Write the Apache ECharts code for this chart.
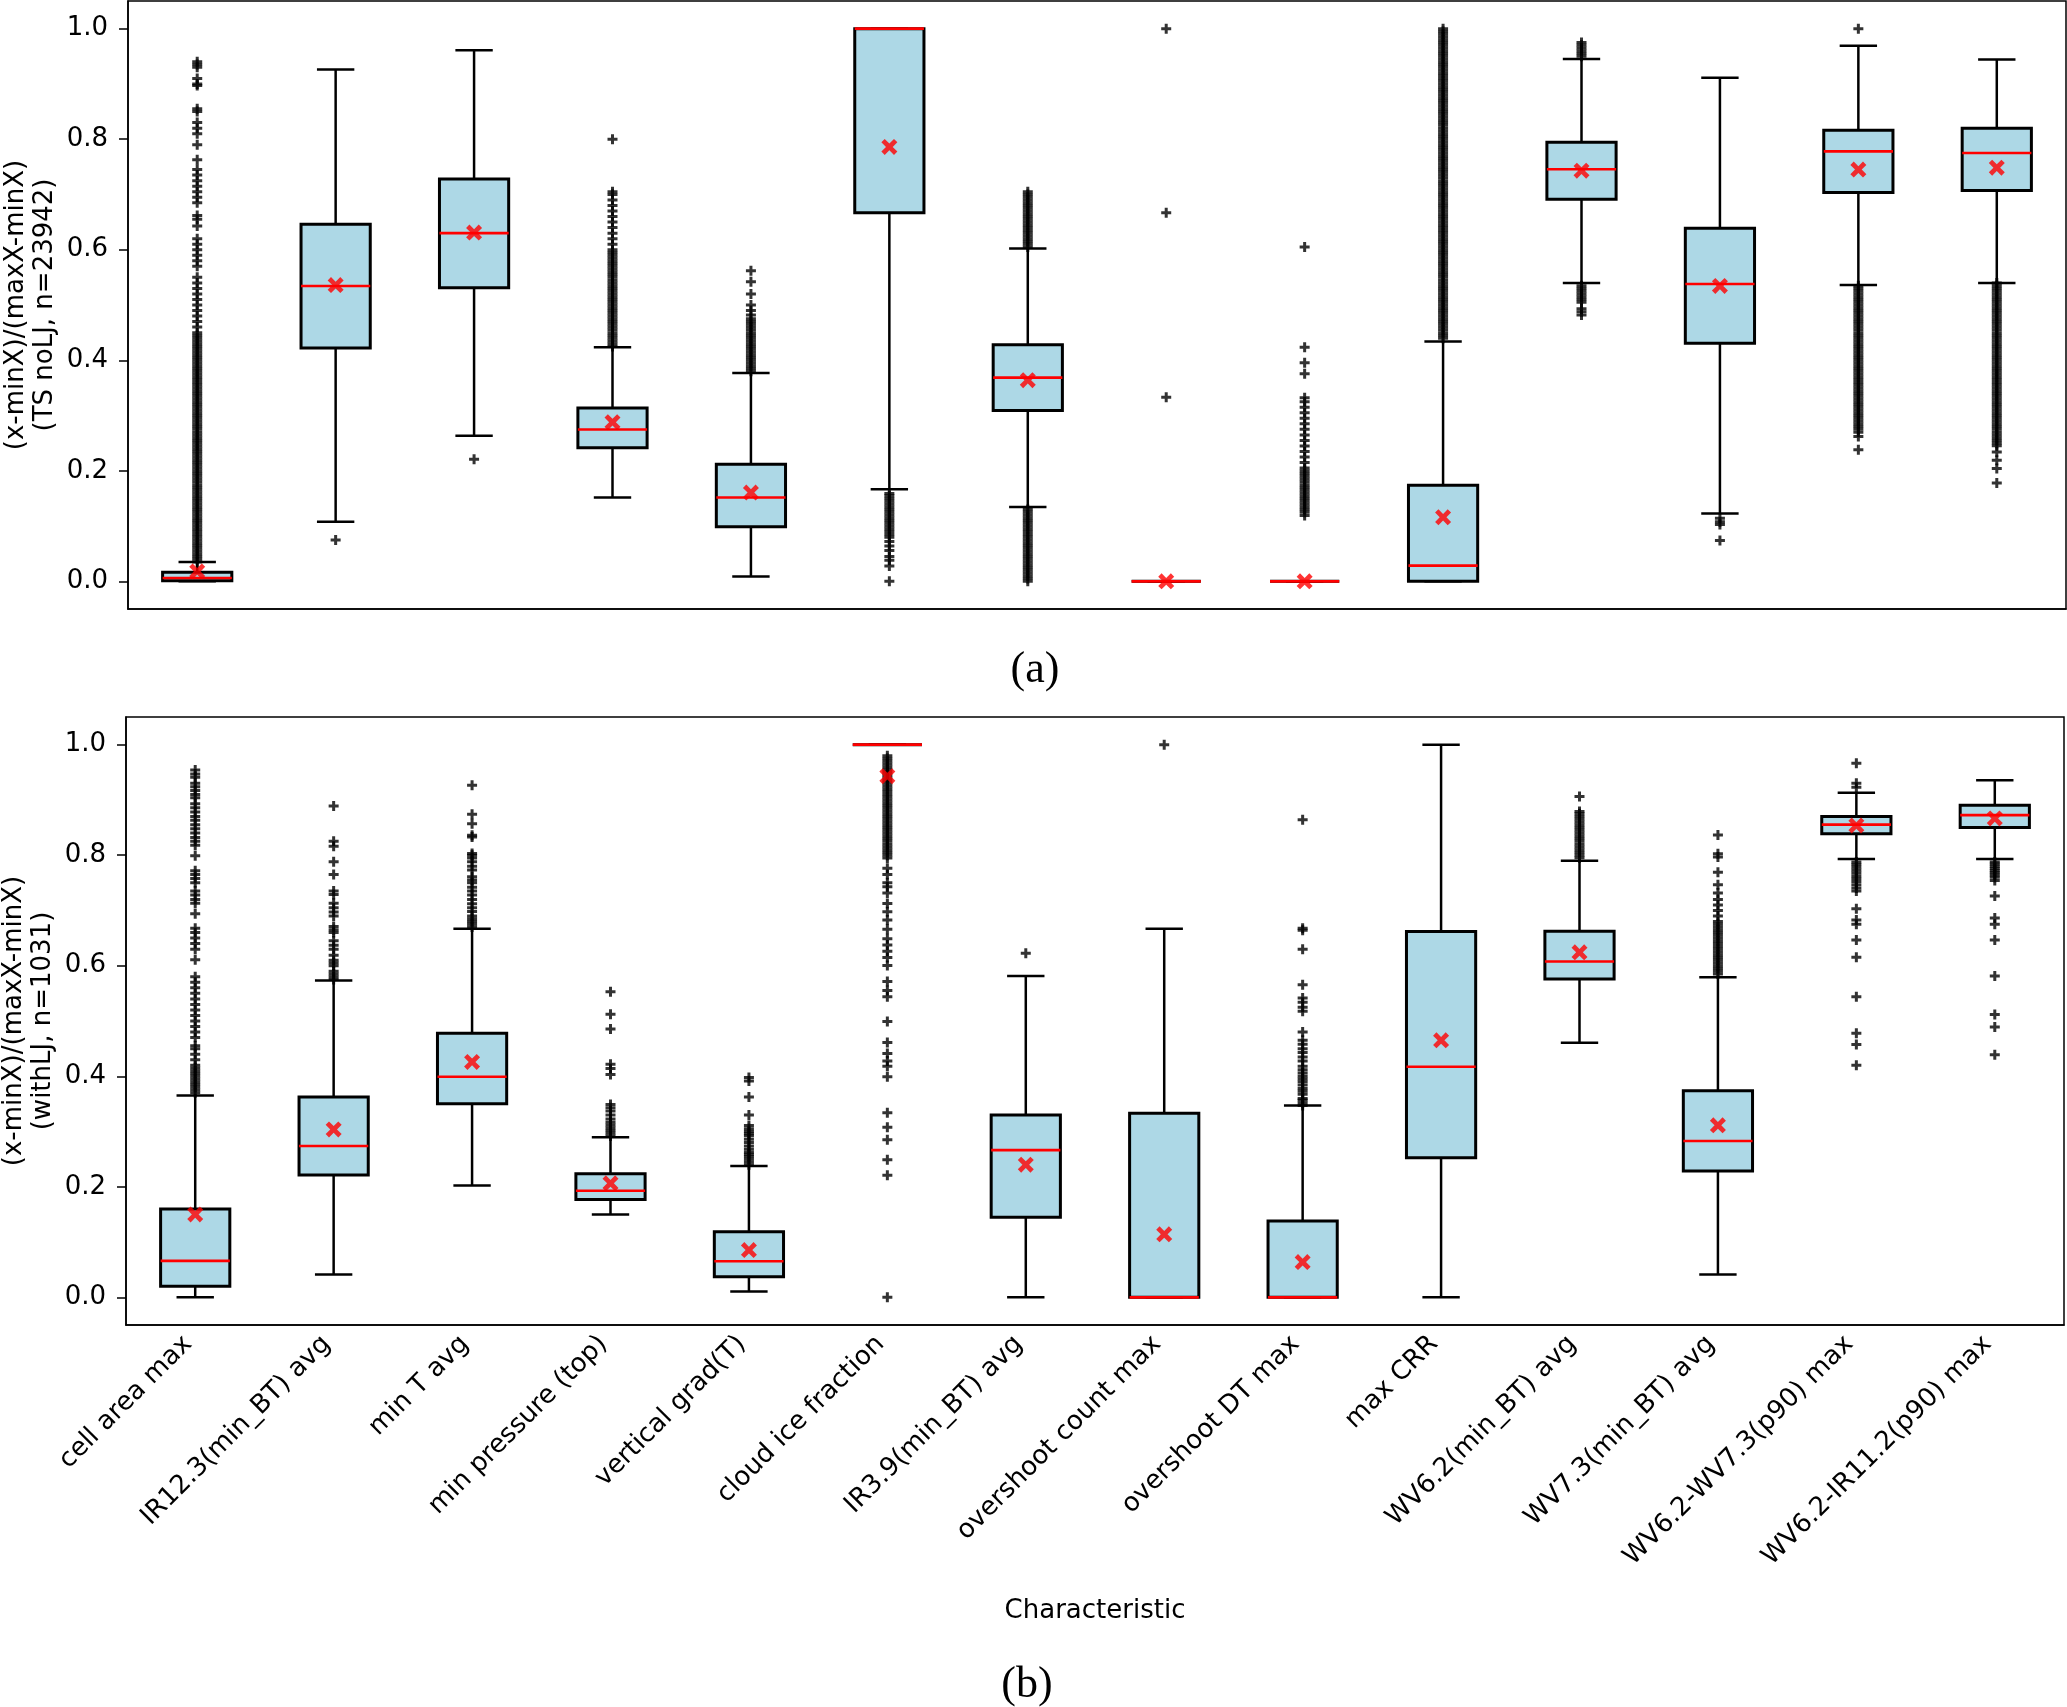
<!DOCTYPE html>
<html><head><meta charset="utf-8">
<script src="https://cdn.jsdelivr.net/npm/echarts@6/dist/echarts.min.js"></script>
<style>html,body{margin:0;padding:0;background:#fff}#c{width:2067px;height:1707px}</style>
</head><body><div id="c"></div>
<script>
const categories = ['cell area max','IR12.3(min_BT) avg','min T avg','min pressure (top)','vertical grad(T)','cloud ice fraction','IR3.9(min_BT) avg','overshoot count max','overshoot DT max','max CRR','WV6.2(min_BT) avg','WV7.3(min_BT) avg','WV6.2-WV7.3(p90) max','WV6.2-IR11.2(p90) max'];
const yTicks = [0, 0.2, 0.4, 0.6, 0.8, 1.0];

// (a) TS noLJ, n=23942
const lowA  = [0.0, 0.108, 0.2635, 0.1517, 0.009, 0.1667, 0.1344, 0, 0, 0, 0.540, 0.123, 0.536, 0.540];
const q1A   = [0.001, 0.422, 0.531, 0.2417, 0.099, 0.6667, 0.3093, 0, 0, 0, 0.6914, 0.431, 0.7035, 0.707];
const medA  = [0.006, 0.5345, 0.630, 0.2748, 0.1517, 1.0, 0.3686, 0, 0, 0.0285, 0.7455, 0.538, 0.778, 0.775];
const q3A   = [0.0165, 0.646, 0.728, 0.3138, 0.2117, 1.0, 0.4279, 0, 0, 0.174, 0.7943, 0.639, 0.816, 0.820];
const highA = [0.035, 0.926, 0.961, 0.4234, 0.377, 1.0, 0.602, 0, 0, 0.434, 0.945, 0.911, 0.969, 0.944];
const meanA = [0.018, 0.536, 0.631, 0.288, 0.1607, 0.786, 0.364, 0, 0, 0.116, 0.743, 0.5345, 0.745, 0.7485];
const outA = [
  [0.035,0.04,0.045,0.05,0.055,0.06,0.065,0.07,0.075,0.08,0.085,0.09,0.095,0.10,0.105,0.11,0.115,0.12,0.125,0.13,0.135,0.14,0.145,0.15,0.155,0.16,0.165,0.17,0.175,0.18,0.185,0.19,0.195,0.20,0.205,0.21,0.215,0.22,0.225,0.23,0.235,0.24,0.245,0.25,0.255,0.26,0.265,0.27,0.275,0.28,0.285,0.29,0.295,0.30,0.305,0.31,0.315,0.32,0.325,0.33,0.335,0.34,0.345,0.35,0.355,0.36,0.365,0.37,0.375,0.38,0.385,0.39,0.395,0.40,0.405,0.41,0.415,0.42,0.425,0.43,0.435,0.44,0.445,0.45,0.46,0.47,0.48,0.49,0.50,0.51,0.52,0.53,0.54,0.55,0.57,0.58,0.59,0.60,0.61,0.62,0.643,0.655,0.662,0.685,0.695,0.705,0.715,0.725,0.735,0.745,0.763,0.79,0.81,0.82,0.83,0.85,0.855,0.897,0.90,0.91,0.93,0.935,0.94],
  [0.075],
  [0.221],
  [0.425,0.43,0.435,0.44,0.445,0.45,0.455,0.46,0.465,0.47,0.475,0.48,0.485,0.49,0.495,0.50,0.505,0.51,0.515,0.52,0.525,0.53,0.535,0.54,0.545,0.55,0.555,0.56,0.565,0.57,0.575,0.58,0.585,0.59,0.595,0.60,0.61,0.62,0.63,0.64,0.65,0.66,0.67,0.68,0.69,0.70,0.705,0.80],
  [0.38,0.385,0.39,0.395,0.40,0.405,0.41,0.415,0.42,0.425,0.43,0.435,0.44,0.445,0.45,0.455,0.46,0.465,0.47,0.475,0.482,0.49,0.50,0.52,0.542,0.562],
  [0.159,0.155,0.15,0.145,0.14,0.135,0.13,0.125,0.12,0.115,0.11,0.105,0.10,0.095,0.09,0.085,0.08,0.072,0.064,0.056,0.045,0.038,0.028,0.0],
  [0.605,0.61,0.615,0.62,0.625,0.63,0.635,0.64,0.645,0.65,0.655,0.66,0.665,0.67,0.675,0.68,0.685,0.69,0.695,0.70,0.705,0.13,0.125,0.12,0.115,0.11,0.105,0.10,0.095,0.09,0.085,0.08,0.075,0.07,0.065,0.06,0.055,0.05,0.045,0.04,0.035,0.03,0.025,0.02,0.015,0.01,0.005,0.0],
  [0.3333,0.6667,1.0],
  [0.605,0.4234,0.3956,0.3754,0.332,0.325,0.315,0.305,0.295,0.285,0.275,0.265,0.255,0.245,0.235,0.225,0.215,0.205,0.20,0.195,0.19,0.185,0.18,0.175,0.17,0.165,0.16,0.155,0.15,0.145,0.14,0.135,0.13,0.125,0.119],
  [0.44,0.445,0.45,0.455,0.46,0.465,0.47,0.475,0.48,0.485,0.49,0.495,0.50,0.505,0.51,0.515,0.52,0.525,0.53,0.535,0.54,0.545,0.55,0.555,0.56,0.565,0.57,0.575,0.58,0.585,0.59,0.595,0.60,0.605,0.61,0.615,0.62,0.625,0.63,0.635,0.64,0.645,0.65,0.655,0.66,0.665,0.67,0.675,0.68,0.685,0.69,0.695,0.70,0.705,0.71,0.715,0.72,0.725,0.73,0.735,0.74,0.745,0.75,0.755,0.76,0.765,0.77,0.775,0.78,0.785,0.79,0.795,0.80,0.805,0.81,0.815,0.82,0.825,0.83,0.835,0.84,0.845,0.85,0.855,0.86,0.865,0.87,0.875,0.88,0.885,0.89,0.895,0.90,0.905,0.91,0.915,0.92,0.925,0.93,0.935,0.94,0.945,0.95,0.955,0.96,0.965,0.97,0.975,0.98,0.985,0.99,0.995,1.0],
  [0.95,0.955,0.96,0.965,0.97,0.975,0.535,0.53,0.525,0.52,0.515,0.51,0.505,0.493,0.488,0.482],
  [0.114,0.108,0.103,0.074],
  [1.0,0.535,0.53,0.525,0.52,0.515,0.51,0.505,0.50,0.495,0.49,0.485,0.48,0.475,0.47,0.465,0.46,0.455,0.45,0.445,0.44,0.435,0.43,0.425,0.42,0.415,0.41,0.405,0.40,0.395,0.39,0.385,0.38,0.375,0.37,0.365,0.36,0.355,0.35,0.345,0.34,0.335,0.33,0.325,0.32,0.315,0.31,0.305,0.30,0.295,0.29,0.285,0.28,0.275,0.27,0.262,0.238],
  [0.54,0.535,0.53,0.525,0.52,0.515,0.51,0.505,0.50,0.495,0.49,0.485,0.48,0.475,0.47,0.465,0.46,0.455,0.45,0.445,0.44,0.435,0.43,0.425,0.42,0.415,0.41,0.405,0.40,0.395,0.39,0.385,0.38,0.375,0.37,0.365,0.36,0.355,0.35,0.345,0.34,0.335,0.33,0.325,0.32,0.315,0.31,0.305,0.30,0.295,0.29,0.285,0.28,0.275,0.27,0.265,0.26,0.255,0.25,0.2455,0.234,0.219,0.204,0.178]
];

// (b) withLJ, n=1031
const lowB  = [0.0, 0.0413, 0.2026, 0.150, 0.0105, 1.0, 0.0, 0, 0, 0.0, 0.4606, 0.0413, 0.793, 0.793];
const q1B   = [0.0203, 0.2213, 0.3503, 0.177, 0.0375, 1.0, 0.1448, 0, 0, 0.2528, 0.5761, 0.2288, 0.8387, 0.850];
const medB  = [0.066, 0.2738, 0.3991, 0.1928, 0.0653, 1.0, 0.2663, 0, 0, 0.4171, 0.6077, 0.2828, 0.8552, 0.8725];
const q3B   = [0.160, 0.3623, 0.4779, 0.2236, 0.1185, 1.0, 0.330, 0.3331, 0.138, 0.6617, 0.6624, 0.3736, 0.8702, 0.8905];
const highB = [0.3653, 0.5731, 0.667, 0.2896, 0.2378, 1.0, 0.5814, 0.667, 0.3473, 1.0, 0.790, 0.5791, 0.913, 0.9355];
const meanB = [0.150, 0.3038, 0.426, 0.2063, 0.0855, 0.943, 0.240, 0.114, 0.0638, 0.4651, 0.6242, 0.3113, 0.8537, 0.8665];
const outB = [
  [0.37,0.375,0.38,0.385,0.39,0.395,0.40,0.405,0.41,0.415,0.42,0.43,0.44,0.45,0.455,0.47,0.48,0.49,0.50,0.51,0.52,0.53,0.54,0.55,0.56,0.57,0.58,0.611,0.63,0.64,0.65,0.66,0.668,0.694,0.713,0.72,0.728,0.735,0.75,0.758,0.765,0.772,0.799,0.818,0.825,0.832,0.84,0.848,0.855,0.863,0.87,0.878,0.886,0.893,0.904,0.91,0.917,0.924,0.93,0.941,0.947,0.954],
  [0.575,0.58,0.585,0.59,0.60,0.605,0.61,0.619,0.63,0.637,0.645,0.66,0.665,0.671,0.69,0.697,0.705,0.713,0.729,0.735,0.765,0.788,0.816,0.825,0.889],
  [0.67,0.675,0.68,0.685,0.69,0.698,0.705,0.712,0.72,0.728,0.735,0.742,0.75,0.755,0.761,0.773,0.78,0.788,0.795,0.80,0.803,0.833,0.836,0.857,0.874,0.9265],
  [0.292,0.297,0.302,0.307,0.312,0.317,0.3226,0.33,0.337,0.343,0.349,0.403,0.414,0.4216,0.4854,0.5124,0.5529],
  [0.24,0.245,0.25,0.255,0.259,0.2626,0.268,0.274,0.28,0.286,0.2926,0.296,0.30,0.305,0.311,0.33,0.3623,0.3916,0.3976],
  [0.0,0.221,0.249,0.285,0.3076,0.3338,0.399,0.418,0.4276,0.441,0.461,0.4989,0.544,0.555,0.5716,0.6002,0.615,0.626,0.6377,0.649,0.666,0.6827,0.6977,0.7127,0.7314,0.7427,0.75,0.765,0.7764,0.795,0.80,0.805,0.81,0.815,0.82,0.825,0.83,0.835,0.84,0.845,0.85,0.855,0.86,0.865,0.87,0.875,0.88,0.885,0.89,0.895,0.90,0.905,0.91,0.915,0.92,0.925,0.93,0.935,0.94,0.945,0.95,0.955,0.96,0.965,0.97,0.975,0.98],
  [0.6227],
  [1.0],
  [0.347,0.352,0.357,0.36,0.3676,0.373,0.378,0.384,0.39,0.395,0.40,0.406,0.412,0.418,0.4276,0.435,0.443,0.45,0.458,0.465,0.48,0.5176,0.525,0.534,0.5416,0.5656,0.630,0.664,0.6677,0.864],
  [],
  [0.7952,0.80,0.805,0.81,0.815,0.82,0.825,0.83,0.835,0.84,0.845,0.85,0.855,0.86,0.865,0.87,0.875,0.879,0.9062],
  [0.585,0.59,0.595,0.60,0.605,0.61,0.615,0.62,0.625,0.63,0.635,0.64,0.645,0.65,0.655,0.66,0.665,0.67,0.675,0.68,0.69,0.70,0.71,0.72,0.7314,0.7464,0.769,0.7967,0.8027,0.8365],
  [0.9662,0.923,0.930,0.7877,0.783,0.778,0.773,0.768,0.763,0.758,0.7525,0.7465,0.7405,0.7352,0.703,0.6752,0.6827,0.6467,0.6152,0.5439,0.4779,0.4576,0.4201],
  [0.7877,0.784,0.78,0.776,0.772,0.768,0.764,0.76,0.754,0.7262,0.675,0.6864,0.6467,0.5814,0.5116,0.4891,0.4389]
];

const yNameA = '(x-minX)/(maxX-minX)\n(TS noLJ, n=23942)';
const yNameB = '(x-minX)/(maxX-minX)\n(withLJ, n=1031)';

const FONT = '"DejaVu Sans"';
const FS = 26;
const plusPath = 'path://M3.5,0H6.5V3.5H10V6.5H6.5V10H3.5V6.5H0V3.5H3.5Z';
const crossPath = 'path://M0,2.1L2.1,0L5,2.9L7.9,0L10,2.1L7.1,5L10,7.9L7.9,10L5,7.1L2.1,10L0,7.9L2.9,5Z';

function boxData(lo, q1, md, q3, hi) {
  return categories.map((c, i) => [i, lo[i], q1[i], md[i], q3[i], hi[i]]);
}
function outData(out) {
  const d = [];
  out.forEach((arr, i) => arr.forEach(v => d.push([i, v])));
  return d;
}
function renderBox(params, api) {
  const i = api.value(0);
  const lo = api.coord([i, api.value(1)]);
  const q1 = api.coord([i, api.value(2)]);
  const md = api.coord([i, api.value(3)]);
  const q3 = api.coord([i, api.value(4)]);
  const hi = api.coord([i, api.value(5)]);
  const band = api.size([1, 0])[0];
  const bw = band * 0.5, cw = band * 0.27;
  const x = lo[0];
  const ls = {stroke: '#000', lineWidth: 2.5};
  return {type: 'group', children: [
    {type: 'line', shape: {x1: x, y1: q1[1], x2: x, y2: lo[1]}, style: ls},
    {type: 'line', shape: {x1: x, y1: q3[1], x2: x, y2: hi[1]}, style: ls},
    {type: 'line', shape: {x1: x - cw / 2, y1: lo[1], x2: x + cw / 2, y2: lo[1]}, style: ls},
    {type: 'line', shape: {x1: x - cw / 2, y1: hi[1], x2: x + cw / 2, y2: hi[1]}, style: ls},
    {type: 'rect', shape: {x: x - bw / 2, y: q3[1], width: bw, height: q1[1] - q3[1]}, style: {fill: '#ADD8E6', stroke: '#000', lineWidth: 3}},
    {type: 'line', shape: {x1: x - bw / 2, y1: md[1], x2: x + bw / 2, y2: md[1]}, style: {stroke: '#FF0000', lineWidth: 2.6}}
  ]};
}

function xAxisCfg(gi, showLabels) {
  return {
    type: 'category', gridIndex: gi, data: categories, boundaryGap: true,
    axisLine: {onZero: false, lineStyle: {color: '#000', width: 1.5}},
    axisTick: {alignWithLabel: true, length: 9, lineStyle: {color: '#000', width: 1.5}},
    axisLabel: showLabels ? {show: true, rotate: 45, interval: 0, fontFamily: FONT, fontSize: FS, color: '#000', margin: 8, padding: [0, 10, 0, 0]} : {show: false},
    splitLine: {show: false}
  };
}
function yAxisCfg(gi) {
  return {
    type: 'value', gridIndex: gi, min: -0.05, max: 1.05,
    axisLine: {show: true, onZero: false, lineStyle: {color: '#000', width: 1.5}},
    axisTick: {show: true, length: 9, customValues: yTicks, lineStyle: {color: '#000', width: 1.5}},
    axisLabel: {show: true, customValues: yTicks, formatter: v => v.toFixed(1), fontFamily: FONT, fontSize: FS, color: '#000', margin: 20},
    splitLine: {show: false}
  };
}
function yName(text, cx, cy) {
  return {type: 'text', x: cx, y: cy, rotation: Math.PI / 2,
    style: {text: text, font: FS + 'px "DejaVu Sans"', fill: '#000', align: 'center', verticalAlign: 'middle', lineHeight: 29}};
}

const chart = echarts.init(document.getElementById('c'), null, {renderer: 'canvas'});
chart.setOption({
  animation: false,
  backgroundColor: '#fff',
  grid: [
    {left: 128, top: 1, width: 1938, height: 608, show: true, borderColor: '#000', borderWidth: 1.5, containLabel: false, outerBoundsMode: 'none'},
    {left: 126, top: 717, width: 1938, height: 608, show: true, borderColor: '#000', borderWidth: 1.5, containLabel: false, outerBoundsMode: 'none'}
  ],
  xAxis: [xAxisCfg(0, false), xAxisCfg(1, true)],
  yAxis: [yAxisCfg(0), yAxisCfg(1)],
  graphic: [
    yName(yNameA, 31, 305),
    yName(yNameB, 29, 1021),
    {type: 'text', x: 1035, y: 670, style: {text: '(a)', font: '44px "Liberation Serif"', fill: '#000', align: 'center', verticalAlign: 'middle'}},
    {type: 'text', x: 1027, y: 1685, style: {text: '(b)', font: '44px "Liberation Serif"', fill: '#000', align: 'center', verticalAlign: 'middle'}},
    {type: 'text', x: 1095, y: 1611, style: {text: 'Characteristic', font: FS + 'px "DejaVu Sans"', fill: '#000', align: 'center', verticalAlign: 'middle'}}
  ],
  series: [
    {type: 'custom', xAxisIndex: 0, yAxisIndex: 0, renderItem: renderBox, data: boxData(lowA, q1A, medA, q3A, highA), z: 2},
    {type: 'scatter', xAxisIndex: 0, yAxisIndex: 0, data: outData(outA), symbol: plusPath, symbolSize: 10, itemStyle: {color: '#000'}, z: 3},
    {type: 'scatter', xAxisIndex: 0, yAxisIndex: 0, data: meanA.map((v, i) => [i, v]), symbol: crossPath, symbolSize: 16, itemStyle: {color: '#FF0000'}, z: 4},
    {type: 'custom', xAxisIndex: 1, yAxisIndex: 1, renderItem: renderBox, data: boxData(lowB, q1B, medB, q3B, highB), z: 2},
    {type: 'scatter', xAxisIndex: 1, yAxisIndex: 1, data: outData(outB), symbol: plusPath, symbolSize: 10, itemStyle: {color: '#000'}, z: 3},
    {type: 'scatter', xAxisIndex: 1, yAxisIndex: 1, data: meanB.map((v, i) => [i, v]), symbol: crossPath, symbolSize: 16, itemStyle: {color: '#FF0000'}, z: 4}
  ]
});
</script></body></html>
